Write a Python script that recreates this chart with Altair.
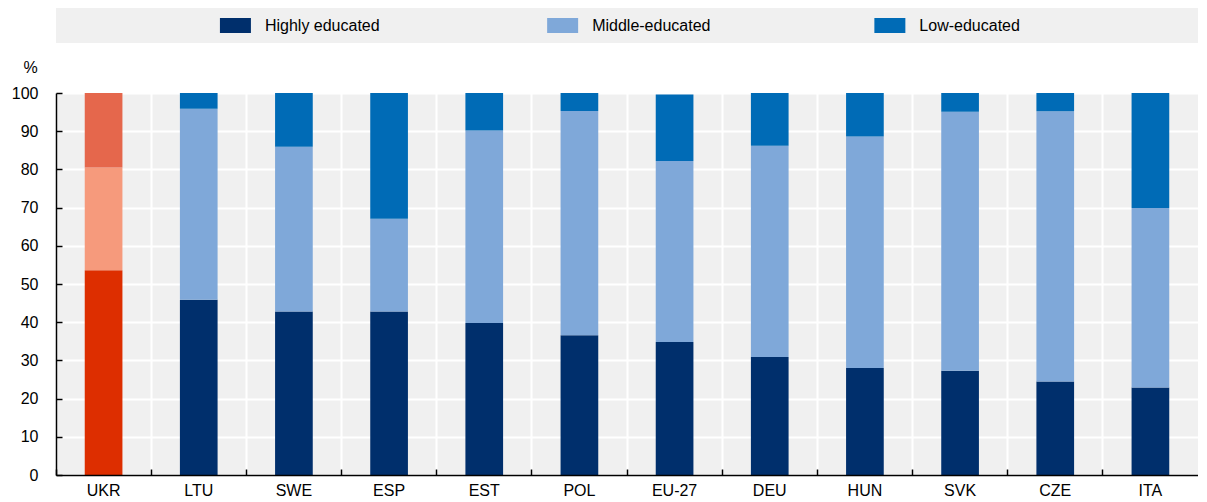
import altair as alt
import pandas as pd

countries = ["UKR", "LTU", "SWE", "ESP", "EST", "POL", "EU-27", "DEU", "HUN", "SVK", "CZE", "ITA"]
highly = [53.6, 45.9, 42.8, 42.8, 39.8, 36.6, 34.8, 30.9, 28.0, 27.3, 24.5, 22.9]
middle = [26.9, 50.0, 43.1, 24.3, 50.4, 58.7, 47.4, 55.3, 60.6, 67.8, 70.7, 47.0]
low = [19.5, 4.1, 14.1, 32.9, 9.8, 4.7, 17.4, 13.8, 11.4, 4.9, 4.8, 30.1]
levels = ["Highly educated", "Middle-educated", "Low-educated"]
colors_std = ["#002F6C", "#7FA8D9", "#006BB6"]
colors_ukr = ["#DD2E00", "#F69A7C", "#E5674C"]
y_ticks = list(range(0, 101, 10))

FONT = "Liberation Sans"
W = 1142
H = 382

rows = []
for i, c in enumerate(countries):
    for j, (lvl, vals) in enumerate(zip(levels, [highly, middle, low])):
        key = ("UKR " + lvl) if c == "UKR" else lvl
        rows.append({"country": c, "level": lvl, "key": key, "value": vals[i], "ord": j})
df = pd.DataFrame(rows)

legend_df = pd.DataFrame({"label": levels, "key": levels})

color_domain = levels + ["UKR " + l for l in levels]
color_range = colors_std + colors_ukr
color_scale = alt.Scale(domain=color_domain, range=color_range)

x_scale = alt.Scale(paddingInner=0, paddingOuter=0)
y_scale = alt.Scale(domain=[0, 100], nice=False)

# Main bars with labelled axes
bars = alt.Chart(df).mark_bar(width={"band": 0.396}).encode(
    x=alt.X("country:N", sort=countries, scale=x_scale,
            axis=alt.Axis(title=None, labelAngle=0, labelFontSize=16, labelFont=FONT,
                          labelColor="#000", labelPadding=7, ticks=False, tickSize=0,
                          domainColor="#000", domainWidth=1.5, grid=False,
                          orient="bottom", zindex=1)),
    y=alt.Y("value:Q", stack="zero", scale=y_scale,
            axis=alt.Axis(values=y_ticks, title="%", titleAngle=0, titleX=-26, titleY=-26,
                          titleAlign="center", titleBaseline="middle", titleFontSize=16,
                          titleFont=FONT, titleFontWeight="normal", titleColor="#000",
                          labelFontSize=16, labelFont=FONT, labelColor="#000",
                          labelPadding=18, ticks=False, tickSize=0, domainColor="#000",
                          domainWidth=1.5, grid=False, orient="left", zindex=1)),
    color=alt.Color("key:N", scale=color_scale, legend=None),
    order=alt.Order("ord:Q"),
)

# Invisible layer carrying inward ticks and the grid
ticks_layer = alt.Chart(df).mark_bar(width={"band": 0.396}, opacity=0).encode(
    x=alt.X("country:N", sort=countries, scale=x_scale,
            axis=alt.Axis(title=None, bandPosition=0, labels=False, domain=False,
                          ticks=True, tickSize=6, tickColor="#000", tickWidth=1.5,
                          offset=-6, grid=True, gridColor="white", gridWidth=2,
                          orient="bottom")),
    y=alt.Y("value:Q", stack="zero", scale=y_scale,
            axis=alt.Axis(values=y_ticks, title=None, labels=False, domain=False,
                          ticks=True, tickSize=6, tickColor="#000", tickWidth=1.5,
                          offset=-6, grid=True, gridColor="white", gridWidth=2,
                          orient="left")),
    order=alt.Order("ord:Q"),
)

main = alt.layer(ticks_layer, bars).resolve_axis(x="independent", y="independent").properties(
    width=W, height=H, view=alt.ViewBackground(fill="#F0F0F0", strokeWidth=0)
)

# Legend panel
leg_x = alt.X("label:N", sort=levels,
              scale=alt.Scale(type="point", domain=levels, padding=0.745, align=0.368),
              axis=None)
leg_sym = alt.Chart(legend_df).mark_point(
    shape="M-1,-0.484L1,-0.484L1,0.484L-1,0.484Z", size=961, filled=True, opacity=1
).encode(
    x=leg_x,
    color=alt.Color("key:N", scale=color_scale, legend=None),
)
leg_txt = alt.Chart(legend_df).mark_text(
    align="left", baseline="middle", dx=29.5, font=FONT, fontSize=16, color="#000"
).encode(x=leg_x, text="label:N")

legend = alt.layer(leg_sym, leg_txt).properties(
    width=W, height=35, view=alt.ViewBackground(fill="#F0F0F0", strokeWidth=0)
)

chart = alt.vconcat(legend, main, spacing=50, bounds="flush").properties(
    padding={"left": 3, "top": 0, "right": 0, "bottom": 0},
    background="white",
).configure_view(strokeWidth=0)

chart.save("out.html", embed_options={"renderer": "svg", "actions": False})
